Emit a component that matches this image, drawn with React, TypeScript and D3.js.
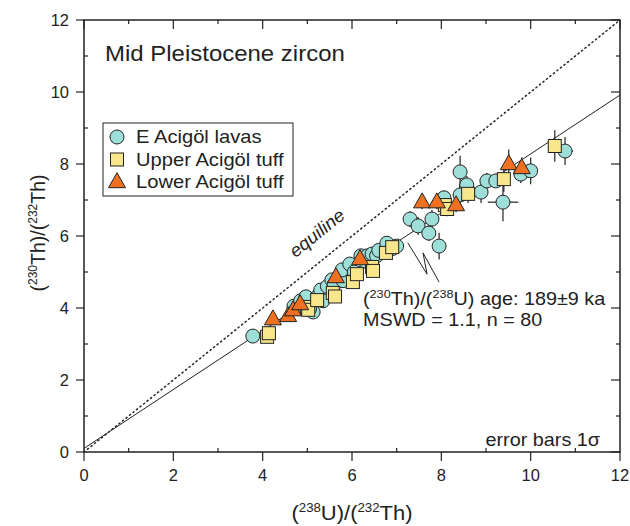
import React from "react";
import * as d3 from "d3";

// [x, y, errX, errY]
const lavas: number[][] = [
  [3.78, 3.22, 0.06, 0.08],
  [4.7, 4.05, 0.08, 0.12],
  [4.85, 4.2, 0.08, 0.12],
  [4.9, 4.0, 0.08, 0.12],
  [4.97, 4.31, 0.08, 0.14],
  [5.13, 3.89, 0.08, 0.14],
  [5.05, 3.98, 0.08, 0.12],
  [5.25, 4.35, 0.08, 0.14],
  [5.3, 4.5, 0.08, 0.14],
  [5.35, 4.2, 0.08, 0.12],
  [5.45, 4.6, 0.08, 0.14],
  [5.55, 4.78, 0.08, 0.14],
  [5.6, 4.65, 0.08, 0.14],
  [5.8, 4.76, 0.08, 0.14],
  [5.78, 5.06, 0.08, 0.14],
  [5.95, 5.22, 0.08, 0.14],
  [6.05, 5.0, 0.08, 0.14],
  [6.2, 5.45, 0.08, 0.14],
  [6.3, 5.3, 0.08, 0.14],
  [6.35, 5.45, 0.08, 0.14],
  [6.45, 5.5, 0.08, 0.16],
  [6.55, 5.45, 0.08, 0.16],
  [6.6, 5.6, 0.08, 0.16],
  [6.78, 5.8, 0.08, 0.18],
  [6.9, 5.65, 0.08, 0.18],
  [7.0, 5.72, 0.08, 0.18],
  [7.3, 6.47, 0.1, 0.22],
  [7.48, 6.28, 0.1, 0.25],
  [7.79, 6.47, 0.1, 0.25],
  [7.72, 6.08, 0.1, 0.22],
  [7.95, 5.72, 0.1, 0.37],
  [8.06, 7.06, 0.1, 0.2],
  [8.42, 7.78, 0.1, 0.45],
  [8.57, 7.42, 0.1, 0.25],
  [8.42, 7.14, 0.1, 0.3],
  [8.89, 7.22, 0.1, 0.3],
  [9.02, 7.53, 0.1, 0.22],
  [9.22, 7.53, 0.1, 0.2],
  [9.38, 6.94, 0.34, 0.53],
  [9.78, 7.72, 0.1, 0.25],
  [10.0, 7.81, 0.1, 0.37],
  [10.77, 8.36, 0.18, 0.39],
];

const upperTuff: number[][] = [
  [4.1, 3.2, 0.06, 0.1],
  [4.14, 3.3, 0.06, 0.1],
  [4.99, 4.03, 0.08, 0.12],
  [5.02, 3.95, 0.08, 0.12],
  [5.22, 4.22, 0.08, 0.12],
  [5.57, 4.42, 0.08, 0.12],
  [5.62, 4.32, 0.08, 0.12],
  [6.02, 4.72, 0.08, 0.14],
  [6.11, 4.94, 0.08, 0.14],
  [6.45, 5.14, 0.08, 0.14],
  [6.47, 5.03, 0.08, 0.14],
  [6.76, 5.53, 0.08, 0.16],
  [6.9, 5.69, 0.08, 0.16],
  [8.08, 6.86, 0.1, 0.2],
  [8.13, 6.75, 0.1, 0.2],
  [8.6, 7.17, 0.1, 0.25],
  [9.4, 7.58, 0.1, 0.35],
  [10.54, 8.5, 0.1, 0.44],
];

const lowerTuff: number[][] = [
  [4.23, 3.69, 0.06, 0.12],
  [4.57, 3.78, 0.06, 0.12],
  [4.68, 3.94, 0.06, 0.12],
  [4.84, 4.11, 0.06, 0.12],
  [5.64, 4.86, 0.08, 0.14],
  [6.18, 5.36, 0.08, 0.14],
  [7.57, 6.94, 0.1, 0.2],
  [7.9, 6.94, 0.1, 0.2],
  [8.33, 6.86, 0.1, 0.2],
  [9.51, 8.0, 0.1, 0.4],
  [9.8, 7.89, 0.1, 0.3],
];

const majorTicks = [0, 2, 4, 6, 8, 10, 12];
const minorTicks = [1, 3, 5, 7, 9, 11];
const isochron = { intercept: 0.1, slope: 0.818 };
const legendLabels = ["E Acigöl lavas", "Upper Acigöl tuff", "Lower Acigöl tuff"];
// zig-zag leader from the isochron to the age label (data units)
const leaderPts = [
  [7.25, 5.81],
  [7.68, 4.94],
  [7.59, 5.53],
  [7.95, 4.72],
];

const FONT = "'Liberation Sans', Arial, Helvetica, sans-serif";
const INK = "#222";
const colors = { lava: "#9edfd9", upper: "#f7e68c", lower: "#ee7020" };
const SX = 1.1; // the original lettering is a touch wider than Arial

const W = 630;
const H = 526;
const m = { left: 84, right: 10, top: 20, bottom: 74 };

const x = d3.scaleLinear().domain([0, 12]).range([m.left, W - m.right]);
const y = d3.scaleLinear().domain([0, 12]).range([H - m.bottom, m.top]);

const triPath = (cx: number, cy: number, s: number) => {
  const h = s * 0.88;
  return `M${cx},${cy - h * 0.62}L${cx + s / 2},${cy + h * 0.38}L${cx - s / 2},${cy + h * 0.38}Z`;
};

function Marker({ kind, cx, cy }: { kind: string; cx: number; cy: number }) {
  if (kind === "lava")
    return <circle cx={cx} cy={cy} r={7} fill={colors.lava} stroke={INK} strokeWidth={1} />;
  if (kind === "upper")
    return <rect x={cx - 6.5} y={cy - 6.5} width={13} height={13} fill={colors.upper} stroke={INK} strokeWidth={1} />;
  return <path d={triPath(cx, cy, 17)} fill={colors.lower} stroke={INK} strokeWidth={1} />;
}

const at = (px: number, py: number, s = SX) => `translate(${px},${py}) scale(${s},1)`;

export default function App() {
  const series = [
    { kind: "lava", data: lavas },
    { kind: "upper", data: upperTuff },
    { kind: "lower", data: lowerTuff },
  ];
  const x0 = x(0), x1 = x(12), y0 = y(0), y1 = y(12);
  const line = d3.line<number>().x((d) => x(d)).y((d) => y(isochron.intercept + isochron.slope * d));
  const leader = d3.line<number[]>().x((d) => x(d[0])).y((d) => y(d[1]));
  const angle = (-Math.atan2(y(0) - y(1), x(1) - x(0)) * 180) / Math.PI;

  return (
    <svg width={W} height={H} style={{ position: "absolute", left: 0, top: 0, background: "#fff" }} fontFamily={FONT}>
      {/* equiline + isochron */}
      <line x1={x(0)} y1={y(0)} x2={x(12)} y2={y(12)} stroke={INK} strokeWidth={1.5} strokeDasharray="1.2,3.3" strokeLinecap="round" />
      <path d={line([0, 12]) || ""} stroke={INK} strokeWidth={1} fill="none" />
      <path d={leader(leaderPts) || ""} stroke={INK} strokeWidth={1} fill="none" />

      {/* error bars */}
      {series.map((s) =>
        s.data.map((d, i) => (
          <g key={s.kind + "e" + i} stroke={INK} strokeWidth={1.2}>
            <line x1={x(d[0] - d[2])} x2={x(d[0] + d[2])} y1={y(d[1])} y2={y(d[1])} />
            <line x1={x(d[0])} x2={x(d[0])} y1={y(d[1] - d[3])} y2={y(d[1] + d[3])} />
          </g>
        ))
      )}
      {/* markers */}
      {series.map((s) =>
        s.data.map((d, i) => <Marker key={s.kind + i} kind={s.kind} cx={x(d[0])} cy={y(d[1])} />)
      )}

      {/* frame & ticks */}
      <rect x={x0} y={y1} width={x1 - x0} height={y0 - y1} fill="none" stroke={INK} strokeWidth={1.5} />
      <g stroke={INK} strokeWidth={1.2}>
        {majorTicks.map((t) => (
          <g key={"M" + t}>
            <line x1={x(t)} x2={x(t)} y1={y0} y2={y0 + 9} />
            <line x1={x(t)} x2={x(t)} y1={y1} y2={y1 + 9} />
            <line x1={x0 - 8} x2={x0} y1={y(t)} y2={y(t)} />
            <line x1={x1 - 9} x2={x1} y1={y(t)} y2={y(t)} />
          </g>
        ))}
        {minorTicks.map((t) => (
          <g key={"m" + t}>
            <line x1={x(t)} x2={x(t)} y1={y0} y2={y0 - 4} />
            <line x1={x(t)} x2={x(t)} y1={y1} y2={y1 + 4} />
            <line x1={x0} x2={x0 + 4} y1={y(t)} y2={y(t)} />
            <line x1={x1 - 4} x2={x1} y1={y(t)} y2={y(t)} />
          </g>
        ))}
      </g>
      <g fontSize={16.5} fill={INK}>
        {majorTicks.map((t) => (
          <text key={"xl" + t} x={x(t)} y={y0 + 29} textAnchor="middle">{t}</text>
        ))}
        {majorTicks.map((t) => (
          <text key={"yl" + t} x={x0 - 15} y={y(t) + 6} textAnchor="end">{t}</text>
        ))}
      </g>

      {/* axis titles */}
      <text transform={at((x0 + x1) / 2, 520)} textAnchor="middle" fontSize={20} fill={INK}>
        (<tspan fontSize={12} dy={-8}>238</tspan><tspan dy={8}>U)/(</tspan><tspan fontSize={12} dy={-8}>232</tspan><tspan dy={8}>Th)</tspan>
      </text>
      <text transform={`translate(45,233) rotate(-90)`} textAnchor="middle" fontSize={19.5} fill={INK}>
        (<tspan fontSize={12} dy={-8}>230</tspan><tspan dy={8}>Th)/(</tspan><tspan fontSize={12} dy={-8}>232</tspan><tspan dy={8}>Th)</tspan>
      </text>

      {/* annotations */}
      <text transform={at(105, 61, 1.09)} fontSize={22} fill={INK}>Mid Pleistocene zircon</text>
      <text transform={at(600, 446)} fontSize={18} textAnchor="end" fill={INK}>error bars 1σ</text>
      <text transform={`translate(${x(5.3)},${y(5.95)}) rotate(${angle}) scale(1.05,1)`} textAnchor="middle" fontSize={18} fontStyle="italic" fill={INK}>equiline</text>
      <text transform={at(363, 305)} fontSize={18} fill={INK}>
        (<tspan fontSize={11.5} dy={-7}>230</tspan><tspan dy={7}>Th)/(</tspan><tspan fontSize={11.5} dy={-7}>238</tspan><tspan dy={7}>U) age: 189±9 ka</tspan>
      </text>
      <text transform={at(363, 326)} fontSize={18} fill={INK}>MSWD = 1.1, n = 80</text>

      {/* legend */}
      <rect x={103} y={123} width={190} height={73} fill="#fff" stroke={INK} strokeWidth={1} />
      {legendLabels.map((l, i) => (
        <g key={l}>
          <Marker kind={["lava", "upper", "lower"][i]} cx={117} cy={137 + i * 22.5} />
          <text transform={at(136, 143 + i * 22.5, 1.12)} fontSize={18} fill={INK}>{l}</text>
        </g>
      ))}
    </svg>
  );
}
